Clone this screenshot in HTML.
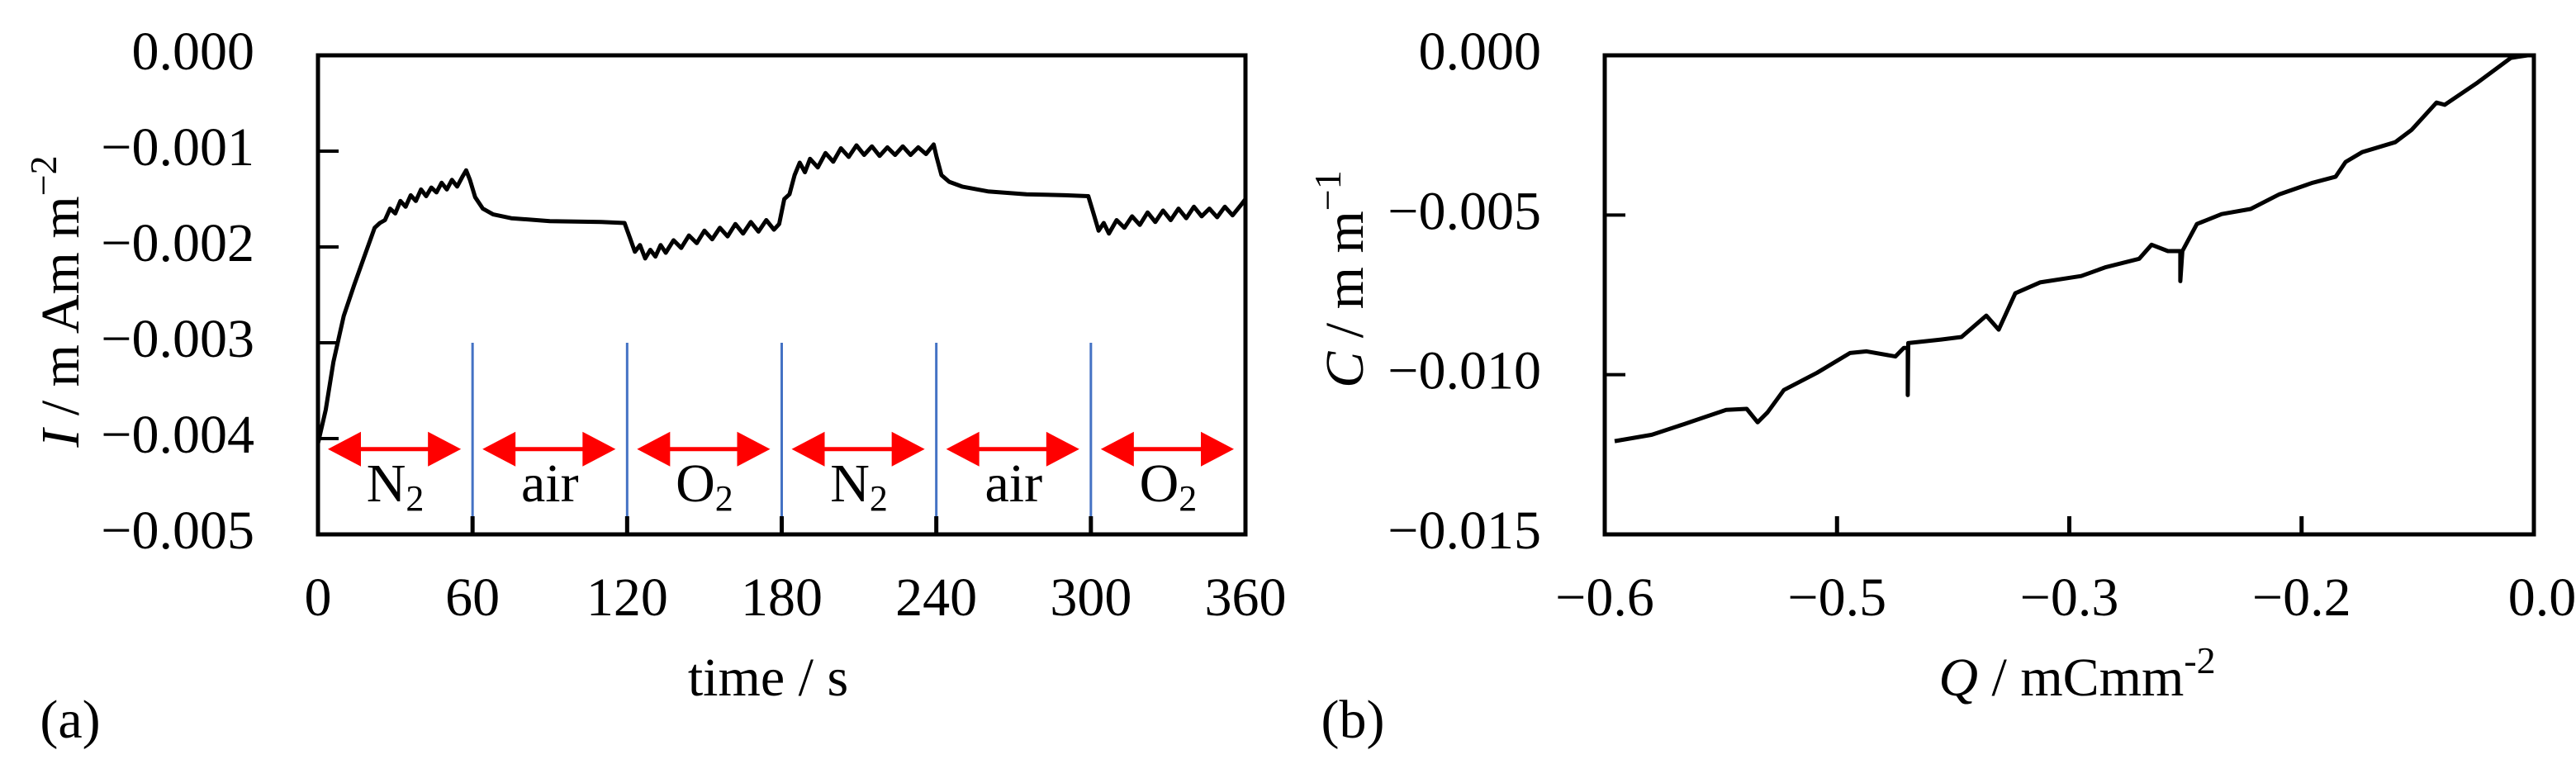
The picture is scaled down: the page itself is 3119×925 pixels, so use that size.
<!DOCTYPE html>
<html><head><meta charset="utf-8"><style>
html,body{margin:0;padding:0;background:#fff;}
svg{display:block;}
text{font-family:"Liberation Serif",serif;fill:#000;}
</style></head><body>
<svg id="chart" width="3119" height="925" viewBox="0 0 3119 925" xmlns="http://www.w3.org/2000/svg"></svg>
<script>
// Panel (a) data
const timeS = [0,3,6,10,14,18,22,24,26,28,30,32,34,36,38,40,42,44,46,48,50,52,54,56,57.5,59,61,64,68,75,90,110,119,121,123,125,127,129,131,133,135,138,141,144,147,150,153,156,159,162,165,168,171,174,177,179,181,183,185,187,189,191,194,197,200,203,206,209,212,215,218,221,224,227,230,233,236,239,240,242,245,250,260,275,290,299,301,303,305,307,310,313,316,319,322,325,328,331,334,337,340,343,346,349,352,355,358,360];
const currentI = [-0.00405,-0.0037,-0.0032,-0.00272,-0.0024,-0.0021,-0.0018,-0.00175,-0.00172,-0.0016,-0.00165,-0.00152,-0.00158,-0.00146,-0.00152,-0.0014,-0.00147,-0.00138,-0.00143,-0.00133,-0.0014,-0.0013,-0.00137,-0.00127,-0.0012,-0.0013,-0.00148,-0.0016,-0.00166,-0.0017,-0.00173,-0.00174,-0.00175,-0.0019,-0.00205,-0.00198,-0.00212,-0.00203,-0.0021,-0.00198,-0.00206,-0.00193,-0.00201,-0.00188,-0.00196,-0.00183,-0.00192,-0.0018,-0.00189,-0.00176,-0.00186,-0.00174,-0.00184,-0.00172,-0.00182,-0.00176,-0.0015,-0.00145,-0.00125,-0.00112,-0.00122,-0.00108,-0.00117,-0.00102,-0.00111,-0.00097,-0.00106,-0.00094,-0.00104,-0.00095,-0.00105,-0.00096,-0.00104,-0.00095,-0.00104,-0.00096,-0.00103,-0.00093,-0.00105,-0.00125,-0.00132,-0.00137,-0.00142,-0.00145,-0.00146,-0.00147,-0.00165,-0.00183,-0.00175,-0.00186,-0.00172,-0.0018,-0.00168,-0.00177,-0.00164,-0.00174,-0.00162,-0.00172,-0.0016,-0.0017,-0.00158,-0.00168,-0.0016,-0.00169,-0.00158,-0.00167,-0.00157,-0.0015];
const xTicksA = [0,60,120,180,240,300,360];
const yTicksA = [0,-0.001,-0.002,-0.003,-0.004,-0.005];
const yTickLabelsA = ["0.000","\u22120.001","\u22120.002","\u22120.003","\u22120.004","\u22120.005"];
const gasLabels = ["N","air","O","N","air","O"];
const gasSubs = ["2","","2","2","","2"];
// Panel (b) data
const chargeQ = [-0.5936,-0.5696,-0.5483,-0.5216,-0.5083,-0.5013,-0.4949,-0.4843,-0.4629,-0.4416,-0.4309,-0.4123,-0.4069,-0.4043,-0.4043,-0.4040,-0.3829,-0.3696,-0.3536,-0.3456,-0.3349,-0.3189,-0.2923,-0.2763,-0.2549,-0.2469,-0.2363,-0.2283,-0.2283,-0.2270,-0.2176,-0.2016,-0.1829,-0.1643,-0.1429,-0.128,-0.1216,-0.1109,-0.0896,-0.0789,-0.0629,-0.0576,-0.0363,-0.0149,-0.004];
const curvC = [-0.01208,-0.01188,-0.01154,-0.0111,-0.01107,-0.01149,-0.01118,-0.01048,-0.00994,-0.00932,-0.00927,-0.00943,-0.00916,-0.00916,-0.01064,-0.00901,-0.0089,-0.00882,-0.00815,-0.00859,-0.00745,-0.00711,-0.00691,-0.00663,-0.00637,-0.00593,-0.00613,-0.00613,-0.00707,-0.00613,-0.00528,-0.00497,-0.00481,-0.00435,-0.00399,-0.0038,-0.00334,-0.00303,-0.00272,-0.00233,-0.00148,-0.00155,-0.00085,-0.00008,0];
const xTicksB = [-0.6,-0.45,-0.3,-0.15,0];
const xTickLabelsB = ["\u22120.6","\u22120.5","\u22120.3","\u22120.2","0.0"];
const yTicksB = [0,-0.005,-0.01,-0.015];
const yTickLabelsB = ["0.000","\u22120.005","\u22120.010","\u22120.015"];

const NS="http://www.w3.org/2000/svg";
const svg=document.getElementById('chart');
function mk(tag,attrs,parent){const e=document.createElementNS(NS,tag);for(const k in attrs)e.setAttribute(k,attrs[k]);(parent||svg).appendChild(e);return e;}
const FS=66;
function txt(x,y,s,anchor,name){
  const t=mk('text',{'font-size':FS,'text-anchor':anchor,x:x,y:y});
  t.textContent=s;
  
  
  return t;
}
// ---------- Panel A ----------
const AX0=385,AX1=1508,AY0=67,AY1=647;
const xa=t=>AX0+(t-0)/360*(AX1-AX0);
const ya=v=>AY0+(0-v)/0.005*(AY1-AY0);
for(let i=1;i<6;i++){
  const l=mk('line',{x1:xa(60*i),x2:xa(60*i),y1:ya(-0.003),y2:AY1-22,stroke:'#4472c4','stroke-width':3});
  
  
}
for(let i=0;i<6;i++){
  const g=mk('g',{});
  
  
  const x0=xa(60*i)+12,x1=xa(60*i+60)-14,y=ya(-0.00405)+7;
  mk('line',{x1:x0+30,x2:x1-30,y1:y,y2:y,stroke:'#ff0000','stroke-width':5},g);
  mk('polygon',{points:`${x0},${y} ${x0+40},${y-21} ${x0+40},${y+21}`,fill:'#ff0000'},g);
  mk('polygon',{points:`${x1},${y} ${x1-40},${y-21} ${x1-40},${y+21}`,fill:'#ff0000'},g);
  const cx=(xa(60*i)+xa(60*i+60))/2;
  const t=mk('text',{'font-size':FS,'text-anchor':'middle',x:cx,y:607});
  
  
  t.appendChild(document.createTextNode(gasLabels[i]));
  if(gasSubs[i]){const s=mk('tspan',{'font-size':44,dy:11},t);s.textContent=gasSubs[i];}
}
let d='';timeS.forEach((t,i)=>{d+=(i?'L':'M')+xa(t).toFixed(1)+','+ya(currentI[i]).toFixed(1);});
const pa=mk('path',{d:d,fill:'none',stroke:'#000','stroke-width':5,'stroke-linejoin':'round'});


xTicksA.forEach(t=>{
  if(t>0&&t<360){const l=mk('line',{x1:xa(t),x2:xa(t),y1:AY1,y2:AY1-22,stroke:'#000','stroke-width':5});}
  txt(xa(t),745,String(t),'middle','x-tick-label');
});
yTicksA.forEach((v,i)=>{
  if(i>0&&i<5){const l=mk('line',{x1:AX0,x2:AX0+25,y1:ya(v),y2:ya(v),stroke:'#000','stroke-width':4});}
  txt(308,ya(v)+17,yTickLabelsA[i],'end','y-tick-label');
});
const fa=mk('rect',{x:AX0,y:AY0,width:AX1-AX0,height:AY1-AY0,fill:'none',stroke:'#000','stroke-width':5});


txt(930,842,'time / s','middle','x-axis-title');
{
  const t=mk('text',{'font-size':FS,'text-anchor':'middle',transform:'translate(95,365) rotate(-90)'});
  
  
  const i=mk('tspan',{'font-style':'italic'},t);i.textContent='I';
  t.appendChild(document.createTextNode(' / m Am m'));
  const s=mk('tspan',{'font-size':46,dy:-27},t);s.textContent='\u22122';
}
txt(85,893,'(a)','middle','panel-label-a');
// ---------- Panel B ----------
const BX0=1943,BX1=3068,BY0=67,BY1=647;
const xb=q=>BX0+(q+0.6)/0.6*(BX1-BX0);
const yb=v=>BY0+(0-v)/0.015*(BY1-BY0);
d='';chargeQ.forEach((q,i)=>{d+=(i?'L':'M')+xb(q).toFixed(1)+','+yb(curvC[i]).toFixed(1);});
const pb=mk('path',{d:d,fill:'none',stroke:'#000','stroke-width':5,'stroke-linejoin':'round'});


xTicksB.forEach((q,i)=>{
  if(i>0&&i<4){const l=mk('line',{x1:xb(q),x2:xb(q),y1:BY1,y2:BY1-22,stroke:'#000','stroke-width':5});}
  txt(xb(q)+(i==4?10:0),745,xTickLabelsB[i],'middle','x-tick-label');
});
yTicksB.forEach((v,i)=>{
  if(i>0&&i<3){const l=mk('line',{x1:BX0,x2:BX0+25,y1:yb(v),y2:yb(v),stroke:'#000','stroke-width':4});}
  txt(1866,yb(v)+17,yTickLabelsB[i],'end','y-tick-label');
});
const fb=mk('rect',{x:BX0,y:BY0,width:BX1-BX0,height:BY1-BY0,fill:'none',stroke:'#000','stroke-width':5});


{
  const t=mk('text',{'font-size':FS,'text-anchor':'middle',x:2515,y:842});
  
  
  const i=mk('tspan',{'font-style':'italic'},t);i.textContent='Q';
  t.appendChild(document.createTextNode(' / mCmm'));
  const s=mk('tspan',{'font-size':46,dy:-27},t);s.textContent='-2';
}
{
  const t=mk('text',{'font-size':FS,'text-anchor':'middle',transform:'translate(1650,338) rotate(-90)'});
  
  
  const i=mk('tspan',{'font-style':'italic'},t);i.textContent='C';
  t.appendChild(document.createTextNode(' / m m'));
  const s=mk('tspan',{'font-size':46,dy:-27},t);s.textContent='\u22121';
}
txt(1638,893,'(b)','middle','panel-label-b');
</script>
</body></html>
